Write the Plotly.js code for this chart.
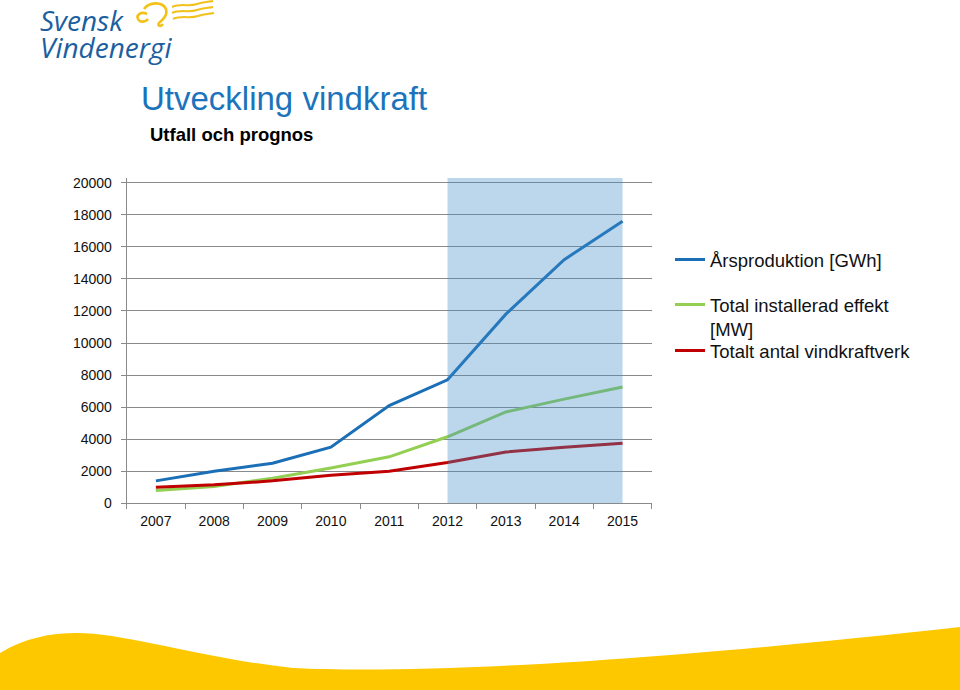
<!DOCTYPE html>
<html>
<head>
<meta charset="utf-8">
<script src="https://cdn.plot.ly/plotly-3.0.1.min.js"></script>
<style>
html,body{margin:0;padding:0;background:#fff;}
#chart{width:960px;height:690px;}
</style>
</head>
<body>
<div id="chart"></div>
<script>
// ---- data ----
const years = ["2007","2008","2009","2010","2011","2012","2013","2014","2015"];
const arsproduktion = [1400, 2000, 2500, 3500, 6100, 7700, 11800, 15200, 17600];
const installeradEffekt = [800, 1050, 1560, 2200, 2900, 4150, 5700, 6500, 7250];
const antalVerk = [1000, 1150, 1400, 1750, 2000, 2550, 3200, 3500, 3750];
const seriesNames = ["Årsproduktion [GWh]", "Total installerad effekt<br>[MW]", "Totalt antal vindkraftverk"];
const prognosStart = "2012";
const prognosEnd = "2015";

const W = 960, H = 690;
const px = x => x / W;
const py = y => 1 - y / H;
function path(pts) { // pixel commands -> paper path
  return pts.replace(/(-?\d+(?:\.\d+)?),(-?\d+(?:\.\d+)?)/g, (m, a, b) => px(+a).toFixed(5) + "," + py(+b).toFixed(5));
}

const font = "Liberation Sans, Arial, sans-serif";
const traces = [
  {x: years, y: arsproduktion, name: seriesNames[0], type: "scatter", mode: "lines",
   line: {color: "#1a6fb6", width: 3}, legend: "legend"},
  {x: years, y: installeradEffekt, name: seriesNames[1], type: "scatter", mode: "lines",
   line: {color: "#92cf52", width: 3}, legend: "legend2"},
  {x: years, y: antalVerk, name: seriesNames[2], type: "scatter", mode: "lines",
   line: {color: "#c00000", width: 3}, legend: "legend3"}
];

const i0 = years.indexOf(prognosStart), i1 = years.indexOf(prognosEnd);

function legendAt(yTop) {
  return {
    x: px(670), xanchor: "left", y: py(yTop), yanchor: "top",
    font: {family: font, size: 18.5, color: "#111"},
    valign: "top", bgcolor: "rgba(0,0,0,0)", itemwidth: 30
  };
}

const logoFont = {family: "Open Sans, sans-serif", size: 28, color: "#1c5f9f", weight: 500};

const layout = {
  width: W, height: H,
  margin: {l: 0, r: 0, t: 0, b: 0},
  paper_bgcolor: "#ffffff", plot_bgcolor: "rgba(0,0,0,0)",
  font: {family: font, size: 14, color: "#111"},
  showlegend: true,
  title: {text: "Utveckling vindkraft", x: px(141), xanchor: "left", y: py(98), yanchor: "middle",
          font: {family: font, size: 33, color: "#1b74bb"}},
  xaxis: {
    domain: [px(126.7), px(651.7)], type: "category", range: [-0.5, 8.5],
    showline: true, linecolor: "#8a8a8a", linewidth: 1,
    ticks: "outside", tickson: "boundaries", ticklen: 5, tickcolor: "#8a8a8a",
    showgrid: false, zeroline: false, fixedrange: true, ticklabelstandoff: 5,
    tickfont: {family: font, size: 14, color: "#111"}
  },
  yaxis: {
    domain: [py(503.3), py(177.9)], range: [0, 20300], dtick: 2000, tick0: 0,
    tickformat: "d", separatethousands: false,
    showline: true, linecolor: "#8a8a8a", linewidth: 1,
    ticks: "outside", ticklen: 5, tickcolor: "#8a8a8a",
    showgrid: true, gridcolor: "#8a8a8a", gridwidth: 1, zeroline: false,
    tickfont: {family: font, size: 14, color: "#111"}, ticklabelstandoff: 6,
    fixedrange: true
  },
  legend: legendAt(241),
  legend2: legendAt(286),
  legend3: legendAt(332),
  shapes: [
    {type: "rect", xref: "x", yref: "y", x0: i0, x1: i1, y0: 0, y1: 20300,
     fillcolor: "rgb(64,141,201)", opacity: 0.35, line: {width: 0}, layer: "above"},
    // bottom yellow wave
    {type: "path", xref: "paper", yref: "paper", layer: "below",
     path: path("M0,653 C25,638 50,633 77,633 C125,633 200,658 293,668 C400,673 600,667 960,627 L960,690 L0,690 Z"),
     fillcolor: "#fdc800", line: {width: 0}},
    // logo swirl
    {type: "path", xref: "paper", yref: "paper", layer: "above",
     path: path("M147,14 C141,11 136,15 138,19 C140,23 146,22 148,19"),
     line: {color: "#f3c21a", width: 2.6}},
    {type: "path", xref: "paper", yref: "paper", layer: "above",
     path: path("M144,9 C149,2 162,1 166,9 C168,16 162,20 159,23 C157,26 161,27 163,24"),
     line: {color: "#f3c21a", width: 2.6}},
    {type: "path", xref: "paper", yref: "paper", layer: "above",
     path: path("M172,7 C181,3 189,7 197,4 C203,2 208,2 213,1"), line: {color: "#f3c21a", width: 2}},
    {type: "path", xref: "paper", yref: "paper", layer: "above",
     path: path("M172,13 C181,9 189,13 197,10 C203,8 208,8 213,7"), line: {color: "#f3c21a", width: 2}},
    {type: "path", xref: "paper", yref: "paper", layer: "above",
     path: path("M173,19 C182,15 190,19 198,16 C204,14 209,14 214,13"), line: {color: "#f3c21a", width: 2}}
  ],
  annotations: [
    {text: "Utfall och prognos", xref: "paper", yref: "paper", x: px(148), y: py(134),
     xanchor: "left", yanchor: "middle", showarrow: false,
     font: {family: font, size: 18.5, color: "#000", weight: "bold"}},
    {text: "<i>Svensk</i>", xref: "paper", yref: "paper", x: px(39), y: py(0),
     xanchor: "left", yanchor: "top", showarrow: false, height: 32, valign: "top", borderpad: 0,
     font: logoFont},
    {text: "<i>Vindenergi</i>", xref: "paper", yref: "paper", x: px(39), y: py(67),
     xanchor: "left", yanchor: "bottom", showarrow: false, height: 34, valign: "bottom", borderpad: 0,
     font: logoFont}
  ]
};

Plotly.newPlot("chart", traces, layout, {displayModeBar: false, staticPlot: true});
</script>
</body>
</html>
